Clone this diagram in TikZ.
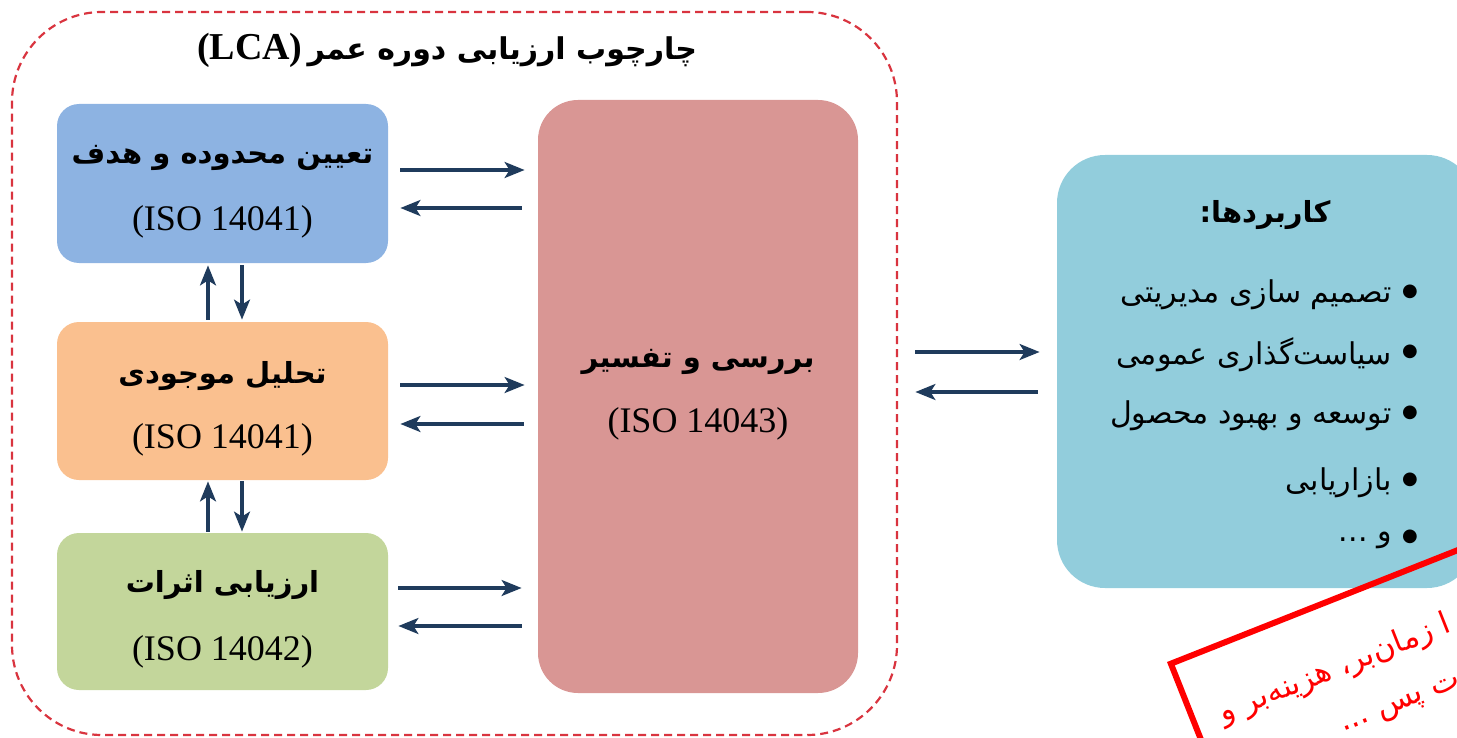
\documentclass[tikz,border=0pt]{standalone}
\usepackage{fontspec}
\setmainfont{Liberation Serif}
\newfontfamily\fa[Script=Arabic]{DejaVu Sans}
\TeXXeTstate=1
\usetikzlibrary{arrows.meta}
\definecolor{bluebox}{HTML}{8DB3E2}
\definecolor{orangebox}{HTML}{FAC08F}
\definecolor{greenbox}{HTML}{C3D69B}
\definecolor{pinkbox}{HTML}{D99694}
\definecolor{appbox}{HTML}{92CDDC}
\definecolor{navy}{HTML}{1F3B5C}
\definecolor{dashred}{HTML}{D9343F}
\begin{document}
\begin{tikzpicture}[x=0.5pt,y=-0.5pt,
  box/.style={rounded corners=11pt, inner sep=0pt, draw=none},
  arr/.style={draw=navy, line width=1.6pt, -{Stealth[length=10pt,width=8pt,inset=2.5pt]}},
  falab/.style={font=\fa\bfseries\fontsize{14.5}{17}\selectfont, inner sep=0pt},
  iso/.style={font=\fontsize{18}{22}\selectfont, inner sep=0pt},
  item/.style={font=\fa\fontsize{15}{18}\selectfont, anchor=east, inner sep=0pt},
  bul/.style={font=\fa\fontsize{9}{11}\selectfont, inner sep=0pt},
  note/.style={text=red, font=\fa\fontsize{15.5}{26.5}\selectfont, inner sep=0pt, anchor=west, rotate=21.6, align=left}
]
\useasboundingbox (0,0) rectangle (1457,738);
\clip (0,0) rectangle (1457,738);

% frame
\node[draw=dashred, line width=1.1pt, dash pattern=on 4pt off 2.5pt, rounded corners=45pt,
  minimum width=442.5pt, minimum height=361.5pt, inner sep=0pt] (frame) at (454.5,373.5) {};
\node[inner sep=0pt] (title) at (447,50) {{\bfseries\fontsize{19}{22}\selectfont (LCA)} {\fa\bfseries\fontsize{15}{18}\selectfont\beginR چارچوب ارزیابی دوره عمر\endR}};

% boxes
\node[box, fill=bluebox, minimum width=165.5pt, minimum height=79.5pt] (scope) at (222.5,183.5) {};
\node[box, fill=orangebox, minimum width=165.5pt, minimum height=79pt] (inv) at (222.5,401) {};
\node[box, fill=greenbox, minimum width=165.5pt, minimum height=78.5pt] (imp) at (222.5,611.5) {};
\node[box, fill=pinkbox, rounded corners=20pt, minimum width=160pt, minimum height=296.5pt] (interp) at (698,396.5) {};
\node[box, fill=appbox, rounded corners=24pt, minimum width=209pt, minimum height=216.5pt] (app) at (1266,371.5) {};

% labels
\node[falab] (scopeT) at (222.5,158) {\beginR تعیین محدوده و هدف\endR};
\node[iso] (scopeI) at (222.5,222) {(ISO 14041)};
\node[falab] (invT) at (222.5,376) {\beginR تحلیل موجودی\endR};
\node[iso] (invI) at (222.5,440) {(ISO 14041)};
\node[falab] (impT) at (222.5,585) {\beginR ارزیابی اثرات\endR};
\node[iso] (impI) at (222.5,652) {(ISO 14042)};
\node[falab] (interpT) at (698,362) {\beginR بررسی و تفسیر\endR};
\node[iso] (interpI) at (698,424) {(ISO 14043)};

\node[falab] (appT) at (1265,215) {\beginR کاربردها:\endR};
\node[item] (i1) at (1392,295) {\beginR تصمیم سازی مدیریتی\endR};
\node[item] (i2) at (1392,355) {\beginR سیاست‌گذاری عمومی\endR};
\node[item] (i3) at (1392,416) {\beginR توسعه و بهبود محصول\endR};
\node[item] (i4) at (1392,483) {\beginR بازاریابی\endR};
\node[item] (i5) at (1392,540) {\beginR و ...\endR};
\node[bul] (b1) at (1410,292) {●};
\node[bul] (b2) at (1410,352) {●};
\node[bul] (b3) at (1410,413) {●};
\node[bul] (b4) at (1410,480) {●};
\node[bul] (b5) at (1410,537) {●};

% horizontal arrows
\coordinate (s1) at ([yshift=6.75pt]scope.east);
\coordinate (s2) at ([yshift=-12.25pt]scope.east);
\coordinate (o1) at ([yshift=8pt]inv.east);
\coordinate (o2) at ([yshift=-11.5pt]inv.east);
\coordinate (g1) at ([yshift=11.75pt]imp.east);
\coordinate (g2) at ([yshift=-7.25pt]imp.east);
\draw[arr, shorten <=6pt, shorten >=6.5pt] (s1) -- (interp.west |- s1);
\draw[arr, shorten <=8pt, shorten >=6pt] (interp.west |- s2) -- (s2);
\draw[arr, shorten <=6pt, shorten >=6.5pt] (o1) -- (interp.west |- o1);
\draw[arr, shorten <=7pt, shorten >=6pt] (interp.west |- o2) -- (o2);
\draw[arr, shorten <=5pt, shorten >=8pt] (g1) -- (interp.west |- g1);
\draw[arr, shorten <=8pt, shorten >=5pt] (interp.west |- g2) -- (g2);

% vertical arrows
\coordinate (v1) at ([xshift=-7.25pt]inv.north);
\coordinate (v2) at ([xshift=9.75pt]scope.south);
\coordinate (v3) at ([xshift=-7.25pt]imp.north);
\coordinate (v4) at ([xshift=9.75pt]inv.south);
\draw[arr, shorten <=1pt, shorten >=1pt] (v1) -- (scope.south -| v1);
\draw[arr, shorten <=1pt, shorten >=1pt] (v2) -- (inv.north -| v2);
\draw[arr, shorten <=0.5pt, shorten >=0.5pt] (v3) -- (inv.south -| v3);
\draw[arr, shorten <=0.5pt, shorten >=0.5pt] (v4) -- (imp.north -| v4);

% right arrows
\coordinate (p1) at ([yshift=22.25pt]interp.east);
\coordinate (p2) at ([yshift=2.25pt]interp.east);
\draw[arr, shorten <=28.5pt, shorten >=8.5pt] (p1) -- (app.west |- p1);
\draw[arr, shorten <=9.5pt, shorten >=28.5pt] (app.west |- p2) -- (p2);

% red note
\begin{scope}[shift={(1167,662)}, rotate=21.6]
\node[draw=red, line width=3pt, rotate=21.6, anchor=north west, minimum width=400pt, minimum height=200pt, inner sep=0pt] (notebox) at (0,0) {};
\node[note] (n1) at (30,95.5) {\beginR ا زمان‌بر، هزینه‌بر و\endR\\\hspace*{54pt}\beginR ت پس ...\endR};
\end{scope}
\end{tikzpicture}
\end{document}
